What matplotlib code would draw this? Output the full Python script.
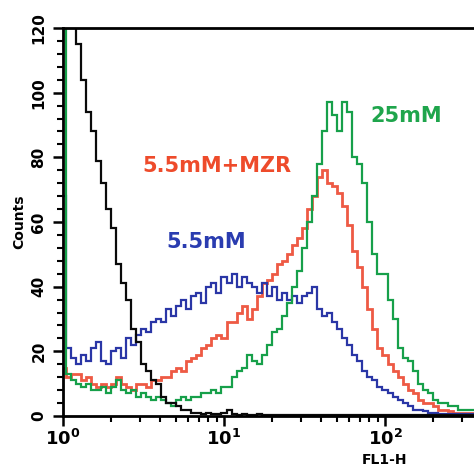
import numpy as np
import matplotlib
matplotlib.use("Agg")
import matplotlib.pyplot as plt
from matplotlib.ticker import MultipleLocator, LogLocator, NullFormatter

# FL1-H histogram channels (32 channels per decade, starting at 10^0)
channels = np.arange(83)
edges = 10 ** ((np.arange(84) - 0.5) / 32.0)

counts_black = [130, 130, 128, 115, 104, 94, 88, 79, 72, 64,
                58, 47, 41, 36, 27, 23, 16, 14, 11, 10,
                6, 4, 4, 3, 2, 2, 1, 1, 0.5, 1,
                0.5, 0.5, 1, 2, 0.5, 0.3, 0.5, 0.3, 0.3, 0.5,
                0.3, 0.3, 0.3, 0.3, 0.3, 0.3, 0.3, 0.3, 0.3, 0.3,
                0.3, 0.3, 0.3, 0.3, 0.3, 0.3, 0.3, 0.3, 0.3, 0.3,
                0.3, 0.3, 0.3, 0.3, 0.3, 0.3, 0.3, 0.3, 0.3, 0.3,
                0.3, 0.3, 0.3, 0.3, 0.3, 0.3, 0.3, 0.3, 0.3, 0.3,
                0.3, 0.3, 0.3]

counts_blue = [68, 21, 18, 16, 19, 17, 21, 23, 17, 16,
               20, 21, 18, 24, 22, 25, 27, 26, 29, 30,
               29, 33, 31, 34, 36, 33, 37, 38, 35, 40,
               41, 38, 43, 41, 44, 40, 43, 41, 40, 38,
               41, 37, 40, 36, 38, 36, 37, 35, 37, 38,
               40, 33, 31, 32, 29, 27, 24, 22, 19, 17,
               14, 12, 11, 9, 8, 7, 6, 5, 4, 3,
               2, 2, 1.5, 1, 1, 0.5, 0.5, 0.5, 0.5, 0.5,
               0.5, 0.5, 0.5]

counts_red = [15, 12, 13, 13, 11, 12, 10, 9, 10, 9,
              10, 12, 10, 9, 8, 10, 10, 9, 11, 11,
              12, 12, 14, 15, 14, 17, 18, 19, 21, 22,
              24, 25, 24, 29, 29, 32, 34, 30, 33, 37,
              41, 42, 44, 47, 48, 50, 53, 55, 58, 64,
              68, 74, 76, 72, 71, 69, 65, 59, 51, 46,
              40, 33, 27, 21, 19, 16, 14, 12, 10, 8,
              7, 5, 4, 4, 3, 2, 2, 1.5, 1, 1,
              1, 1, 0.5]

counts_green = [130, 13, 11, 10, 9, 10, 8, 8, 9, 7,
                9, 11, 8, 7, 8, 6, 7, 6, 5, 6,
                5, 4, 3, 5, 6, 5, 6, 6, 7, 7,
                8, 7, 9, 9, 12, 14, 15, 19, 17, 16,
                19, 22, 26, 27, 31, 35, 40, 45, 52, 60,
                68, 78, 88, 97, 93, 88, 97, 94, 80, 78,
                72, 60, 50, 44, 44, 36, 30, 21, 18, 17,
                14, 10, 8, 7, 5, 4, 4, 3, 3, 2,
                2, 2, 2]

labels = ["5.5mM+MZR", "5.5mM", "25mM"]

fig = plt.figure(figsize=(4.74, 4.67), dpi=100)
ax = fig.add_axes([63 / 474, 1 - 416 / 467, 1 - 63 / 474, (416 - 28) / 467])

ax.stairs(counts_red, edges, baseline=None, color='#ee5a44', lw=2.0, zorder=2)
ax.stairs(counts_blue, edges, baseline=None, color='#2a36a6', lw=1.6, zorder=3)
ax.stairs(counts_green, edges, baseline=None, color='#17a04a', lw=1.6, zorder=4)
ax.stairs(counts_black, edges, baseline=None, color='#0a0a0a', lw=1.6, zorder=5)

ax.set_xscale('log')
ax.set_xlim(1, 10 ** (411 / 161))
ax.set_ylim(0, 120)

for side in ['left', 'bottom', 'top']:
    ax.spines[side].set_linewidth(2.0)
    ax.spines[side].set_zorder(6)
ax.spines['right'].set_visible(False)

ax.yaxis.set_major_locator(MultipleLocator(20))
ax.yaxis.set_minor_locator(MultipleLocator(4))
ax.xaxis.set_major_locator(LogLocator(base=10))
ax.xaxis.set_minor_locator(LogLocator(base=10, subs=np.arange(2, 10)))
ax.xaxis.set_minor_formatter(NullFormatter())
ax.tick_params(which='major', direction='out', length=7, width=1.8, pad=5)
ax.tick_params(which='minor', direction='out', length=4, width=1.5)
ax.tick_params(axis='x', which='major', pad=2)
ax.tick_params(top=False, right=False)

ax.set_xticks([1, 10, 100])
ax.set_xticklabels([r'$\mathbf{10^{0}}$', r'$\mathbf{10^{1}}$', r'$\mathbf{10^{2}}$'],
                   fontsize=13)
ax.set_yticks([0, 20, 40, 60, 80, 100, 120])
ax.set_yticklabels(['0', '20', '40', '60', '80', '100', '120'],
                   fontsize=11, fontweight='bold', rotation=90, va='center')

ax.set_ylabel('Counts', fontsize=10, fontweight='bold', labelpad=4)
ax.text(0.783, -0.113, 'FL1-H', transform=ax.transAxes, ha='center', va='center',
        fontsize=10, fontweight='bold')

ax.text(9.05, 77.3, labels[0], color='#ee4b2b', fontsize=15, fontweight='bold',
        ha='center', va='center')
ax.text(7.73, 53.8, labels[1], color='#2a3cb0', fontsize=15, fontweight='bold',
        ha='center', va='center')
ax.text(135, 92.8, labels[2], color='#1fa54c', fontsize=15, fontweight='bold',
        ha='center', va='center')

fig.savefig('out.png', dpi=100, facecolor='white')
